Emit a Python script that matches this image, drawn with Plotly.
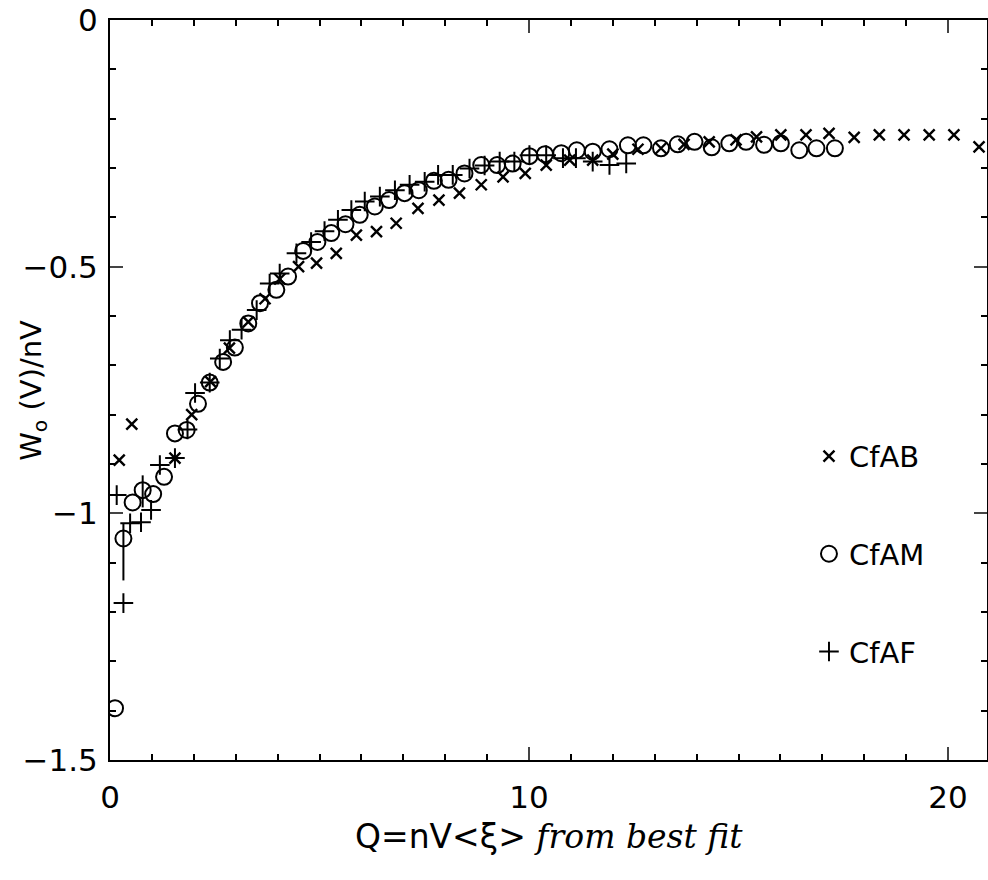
import plotly.graph_objects as go

# CfAB (x markers)
cfab_q = [0.22, 0.52, 1.55, 1.95, 2.40, 2.85, 3.30, 3.70, 4.05, 4.50, 4.93, 5.40, 5.88, 6.36,
          6.83, 7.35, 7.85, 8.34, 8.86, 9.38, 9.91, 10.41, 10.97, 11.52, 12.00, 12.60, 13.15,
          13.70, 14.30, 14.94, 15.43, 16.01, 16.61, 17.16, 17.76, 18.36, 18.95, 19.55, 20.14, 20.74]
cfab_w = [-0.892, -0.819, -0.888, -0.800, -0.733, -0.665, -0.612, -0.565, -0.525, -0.500, -0.493,
          -0.473, -0.436, -0.429, -0.412, -0.382, -0.365, -0.351, -0.334, -0.318, -0.311, -0.294,
          -0.284, -0.284, -0.272, -0.262, -0.260, -0.252, -0.247, -0.243, -0.237, -0.233, -0.233,
          -0.230, -0.238, -0.233, -0.233, -0.233, -0.233, -0.257]

# CfAM (open circles)
cfam_q = [0.12, 0.32, 0.54, 0.78, 1.03, 1.29, 1.55, 1.83, 2.10, 2.38, 2.70, 2.98, 3.30, 3.58,
          3.97, 4.25, 4.61, 4.95, 5.28, 5.62, 5.96, 6.32, 6.66, 7.03, 7.37, 7.73, 8.08, 8.46,
          8.86, 9.24, 9.61, 10.01, 10.38, 10.77, 11.14, 11.52, 11.92, 12.36, 12.73, 13.15,
          13.55, 13.95, 14.36, 14.78, 15.18, 15.61, 16.01, 16.45, 16.86, 17.30]
cfam_w = [-1.395, -1.051, -0.978, -0.953, -0.961, -0.926, -0.838, -0.831, -0.778, -0.735,
          -0.693, -0.664, -0.615, -0.574, -0.547, -0.520, -0.468, -0.450, -0.432, -0.414,
          -0.395, -0.378, -0.365, -0.351, -0.345, -0.326, -0.324, -0.311, -0.294, -0.294,
          -0.291, -0.276, -0.272, -0.270, -0.264, -0.267, -0.262, -0.254, -0.254, -0.260,
          -0.252, -0.247, -0.258, -0.250, -0.247, -0.253, -0.250, -0.264, -0.260, -0.260]
cfam_err_plus = [0, 0.03, 0, 0.03] + [0] * (len(cfam_q) - 4)
cfam_err_minus = [0, 0.085, 0, 0.035] + [0] * (len(cfam_q) - 4)

# CfAF (plus markers)
cfaf_q = [0.16, 0.32, 0.48, 0.74, 0.98, 1.19, 1.55, 1.85, 2.03, 2.38, 2.62, 2.86, 3.14, 3.50,
          3.81, 4.05, 4.45, 4.80, 5.12, 5.44, 5.76, 6.08, 6.44, 6.80, 7.15, 7.51, 7.83, 8.18,
          8.58, 8.94, 9.30, 9.65, 10.01, 10.41, 10.81, 11.12, 11.52, 11.92, 12.32]
cfaf_w = [-0.963, -1.182, -1.020, -1.018, -0.993, -0.902, -0.888, -0.830, -0.756, -0.735,
          -0.686, -0.649, -0.628, -0.588, -0.534, -0.514, -0.473, -0.450, -0.428, -0.405,
          -0.385, -0.368, -0.358, -0.345, -0.334, -0.328, -0.314, -0.314, -0.301, -0.295,
          -0.287, -0.287, -0.274, -0.274, -0.280, -0.280, -0.287, -0.294, -0.291]

x_ticks = [0, 10, 20]
y_ticks = [0, -0.5, -1, -1.5]

font = "DejaVu Sans, Liberation Sans, sans-serif"

fig = go.Figure()
fig.add_trace(go.Scatter(
    x=cfab_q, y=cfab_w, mode="markers", name="CfAB", legendgroup="a",
    marker=dict(symbol="x-thin-open", size=11, color="black", line=dict(width=2.4, color="black"))))
fig.add_trace(go.Scatter(
    x=cfam_q, y=cfam_w, mode="markers", name="CfAM", legendgroup="b",
    error_y=dict(type="data", symmetric=False, array=cfam_err_plus, arrayminus=cfam_err_minus,
                 color="black", thickness=2, width=0),
    marker=dict(symbol="circle-open", size=16, color="black", line=dict(width=2, color="black"))))
fig.add_trace(go.Scatter(
    x=cfaf_q, y=cfaf_w, mode="markers", name="CfAF", legendgroup="c",
    marker=dict(symbol="cross-thin-open", size=14, color="black", line=dict(width=2, color="black"))))

fig.update_layout(
    width=988, height=880,
    margin=dict(l=110, r=1, t=20, b=120, autoexpand=False),
    paper_bgcolor="white", plot_bgcolor="white",
    font=dict(family=font, size=30, color="black"),
    showlegend=True,
    legend=dict(x=0.797, y=0.445, xanchor="left", yanchor="top",
                bgcolor="rgba(0,0,0,0)", borderwidth=0, tracegroupgap=57,
                traceorder="grouped", itemwidth=30, font=dict(size=29)),
    xaxis=dict(range=[0, 20.93], tickvals=x_ticks, ticks="inside", ticklen=13, tickwidth=1.5,
               showline=True, linecolor="black", linewidth=2, mirror="ticks", showgrid=False,
               zeroline=False, tickfont=dict(size=31), automargin=False, ticklabelstandoff=9,
               minor=dict(ticks="inside", dtick=1, ticklen=6, tickwidth=1.5, tickcolor="black")),
    yaxis=dict(range=[-1.5, 0.0], tickvals=y_ticks, ticks="inside", ticklen=13, tickwidth=1.5,
               showline=True, linecolor="black", linewidth=2, mirror="ticks", showgrid=False,
               zeroline=False, tickfont=dict(size=31), ticklabelstandoff=4, automargin=False,
               minor=dict(ticks="inside", dtick=0.1, ticklen=6, tickwidth=1.5, tickcolor="black")),
    annotations=[
        dict(text="W<sub>o</sub> (V)/nV", textangle=-90, xref="paper", yref="paper",
             x=-0.088, y=0.5, xanchor="center", yanchor="middle", showarrow=False,
             font=dict(size=29)),
        dict(text="Q=nV&lt;ξ&gt; <span style='font-family:DejaVu Serif;font-style:italic'>from best fit</span>",
             xref="paper", yref="paper", x=0.5, y=-0.103, xanchor="center", yanchor="middle",
             showarrow=False, font=dict(size=33)),
    ],
)

fig.write_html("out.html", config={"displayModeBar": False},
               post_script="document.body.style.margin='0';document.body.style.overflow='hidden';")
